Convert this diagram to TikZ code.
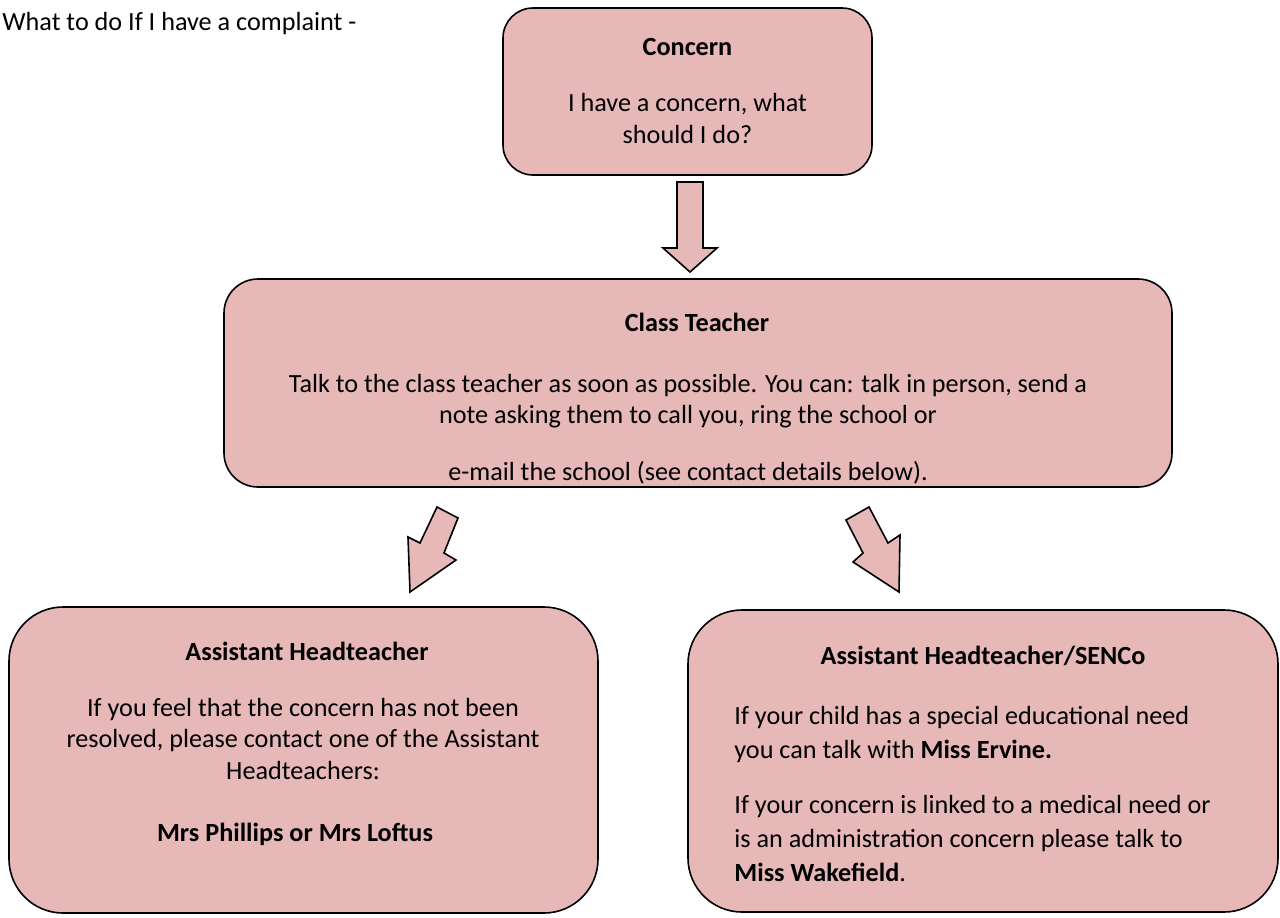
\documentclass[tikz,border=0pt]{standalone}
\usepackage{fontspec}
\setmainfont{Carlito}
\usepackage{tikz}
\usetikzlibrary{positioning}
\definecolor{PanelPink}{HTML}{E6B8B7}

\begin{document}
\begin{tikzpicture}[x=.5pt,y=-.5pt,
    panel/.style={draw,line width=.8pt,fill=PanelPink,inner sep=0pt},
    ptext/.style={inner sep=0pt,align=center,anchor=north,font=\fontsize{13.1}{15.8}\selectfont},
    blockarrow/.style={draw,fill=PanelPink,line width=.8pt,line join=miter}]
  \useasboundingbox (0,0) rectangle (1280,917);
  \node[ptext,anchor=north west] (title) at (2,12) {What to do If I have a complaint -};

  \node[panel,rounded corners=15pt,minimum width=184.5pt,minimum height=83.5pt] (concern) at (687.5,91.5) {};
  \node[ptext] (concern-txt) at (687.5,37.5)
      {\textbf{Concern}\\[12.5pt] I have a concern, what\\ should I do?};

  \node[panel,rounded corners=17pt,minimum width=474pt,minimum height=104pt] (teacher) at (698,383) {};
  \node[ptext] (teacher-head) at (697,312.5) {\textbf{Class Teacher}};
  \node[ptext] (teacher-txt) at (688,373.5)
      {Talk to the class teacher as soon as possible. You can: talk in person, send a\\
       note asking them to call you, ring the school or\\[12.5pt]
       e-mail the school (see contact details below).};

  \node[panel,rounded corners=27pt,minimum width=294.5pt,minimum height=153pt] (assist) at (303.5,760) {};
  \node[ptext] (assist-head) at (307,641.5) {\textbf{Assistant Headteacher}};
  \node[ptext] (assist-txt) at (303,697.5)
      {If you feel that the concern has not been\\
       resolved, please contact one of the Assistant\\
       Headteachers:};
  \node[ptext] (assist-names) at (295,822.5) {\textbf{Mrs Phillips or Mrs Loftus}};

  \node[panel,rounded corners=27pt,minimum width=295pt,minimum height=151pt] (senco) at (983,761) {};
  \node[ptext] (senco-head) at (983,645.5) {\textbf{Assistant Headteacher/SENCo}};
  \node[ptext,align=left,anchor=north west,font=\fontsize{13.1}{16.8}\selectfont] (senco-txt) at (734,706)
      {If your child has a special educational need\\
       you can talk with \textbf{Miss Ervine.}\\[11pt]
       If your concern is linked to a medical need or\\
       is an administration concern please talk to\\
       \textbf{Miss Wakefield}.};

  \draw[blockarrow] (677,182) -- (703,182) -- (703,248) -- (717,248) -- (690,272)
      -- (663,248) -- (677,248) -- cycle;
  \draw[blockarrow] (437,507) -- (458,518) -- (444,553) -- (456,560) -- (410,592)
      -- (408,537) -- (420,543) -- cycle;
  \draw[blockarrow] (869,507) -- (846,520) -- (863,553) -- (853,562) -- (899,592)
      -- (900,535) -- (888,543) -- cycle;
\end{tikzpicture}
\end{document}
